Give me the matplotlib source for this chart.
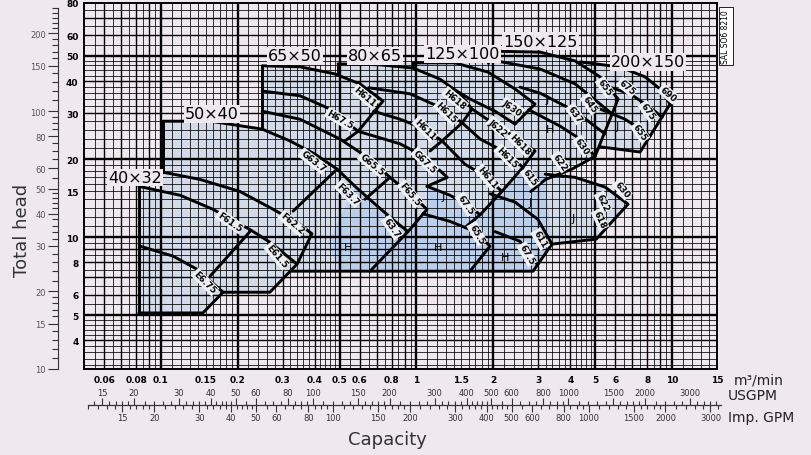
import matplotlib.pyplot as plt
import numpy as np
from matplotlib.ticker import NullLocator, NullFormatter

# Values: Q in m3/min, H in m
Q_TICKS = [0.06, 0.08, 0.1, 0.15, 0.2, 0.3, 0.4, 0.5, 0.6, 0.8, 1, 1.5, 2, 3, 4, 5, 6, 8, 10, 15]
Q_TICK_TEXT = ['0.06', '0.08', '0.1', '0.15', '0.2', '0.3', '0.4', '0.5', '0.6', '0.8',
               '1', '1.5', '2', '3', '4', '5', '6', '8', '10', '15']
H_TICKS = [4, 5, 6, 8, 10, 15, 20, 30, 40, 50, 60, 80]
FT_TICKS = [10, 15, 20, 30, 40, 50, 60, 80, 100, 150, 200]
GPM_TICKS = [15, 20, 30, 40, 50, 60, 80, 100, 150, 200, 300, 400, 500, 600, 800, 1000, 1500, 2000, 3000]

M_TO_FT = 3.2808
M3MIN_TO_USGPM = 264.17
M3MIN_TO_IMPGPM = 219.97

# envelope curves (Q, H)
c40_left = [(0.082, 15.7), (0.082, 5.1)]
c40_top = [(0.082, 15.7), (0.119, 14.5), (0.16, 12.8), (0.223, 10.7), (0.267, 9.56), (0.341, 7.87),
           (0.267, 6.13), (0.175, 6.13)]
c40_e6 = [(0.0828, 9.23), (0.1115, 8.45), (0.1384, 7.52), (0.175, 6.13), (0.146, 5.1), (0.082, 5.1)]
c40_edge = [(0.223, 10.5), (0.1557, 7.07)]
c50_left = [(0.102, 28.0), (0.102, 17.8)]
c50_top = [(0.102, 28.0), (0.156, 28.0), (0.249, 26.1), (0.32, 23.5), (0.401, 20.9), (0.489, 18.3),
           (0.575, 15.7), (0.689, 13.4), (0.825, 11.5), (0.927, 10.5)]
c50_f6 = [(0.102, 17.8), (0.142, 16.7), (0.204, 15.0), (0.275, 12.8), (0.35, 11.2), (0.39, 10.3),
          (0.341, 7.87)]
c50_edge = [(0.489, 18.3), (0.329, 12.6)]
c65_left = [(0.249, 45.8), (0.249, 26.1)]
c65_top = [(0.249, 45.8), (0.35, 45.4), (0.48, 42.6), (0.601, 39.0), (0.74, 33.5), (0.591, 25.6),
           (0.525, 23.5)]
c65_h67 = [(0.249, 36.6), (0.35, 35.1), (0.459, 31.2), (0.591, 25.6)]
c65_g6 = [(0.249, 30.6), (0.35, 28.5), (0.502, 23.9), (0.658, 20.0), (0.788, 17.0), (0.944, 14.7),
          (1.10, 12.8), (0.927, 10.5), (0.658, 7.39)]
c65_edge = [(0.788, 17.0), (0.629, 14.0)]
c_bottom = [(0.32, 7.39), (2.86, 7.39), (3.39, 9.40)]
c80_left = [(0.493, 46.6), (0.493, 42.6)]
c80_top = [(0.493, 46.6), (0.72, 46.2), (0.97, 44.9), (1.236, 40.7), (1.482, 35.7), (1.65, 31.2),
           (1.51, 27.6), (1.26, 23.5), (1.13, 21.5)]
c80_h615 = [(0.65, 37.7), (0.944, 35.7), (1.236, 31.7), (1.51, 27.6)]
c80_h611 = [(0.68, 30.6), (0.863, 28.5), (1.08, 26.1), (1.26, 23.5)]
c80_g67 = [(0.591, 25.6), (0.863, 22.9), (1.08, 20.4), (1.32, 17.0), (1.10, 15.7)]
c80_j67 = [(1.10, 15.7), (1.353, 14.5), (1.59, 13.25), (1.774, 12.2), (1.55, 10.9)]
c80_65 = [(1.06, 12.3), (1.353, 11.5), (1.70, 10.5), (1.94, 9.23), (1.62, 7.39)]
c125_left = [(0.97, 44.9), (0.97, 47.0)]
c125_top = [(0.97, 47.0), (1.415, 47.0), (1.905, 43.3), (2.43, 37.3), (2.91, 32.6), (2.43, 27.3)]
c125_j622 = [(1.35, 38.0), (1.621, 34.1), (2.03, 30.6), (2.43, 27.3)]
c125_h618 = [(1.65, 31.2), (1.94, 28.0), (2.323, 25.0), (2.91, 21.5), (2.61, 18.6), (2.16, 15.0),
             (1.774, 12.2)]
c125_h615 = [(1.51, 27.6), (1.774, 23.9), (2.22, 21.3), (2.61, 18.6)]
c125_h611 = [(1.26, 23.5), (1.55, 19.1), (1.855, 17.2), (2.16, 15.0)]
c125_611 = [(1.94, 14.7), (2.43, 13.65), (2.99, 11.7), (3.39, 9.40)]
c125_67 = [(2.03, 10.5), (2.54, 9.64), (2.965, 7.87)]
c125_chain = [(5.0, 20.5), (4.06, 18.3), (3.2, 16.7), (2.8, 15.0)]
c150_left = [(1.905, 47.0), (1.905, 52.2)]
c150_top = [(1.905, 52.2), (3.05, 51.7), (4.18, 47.8), (5.23, 41.5), (6.15, 34.1), (5.0, 20.5)]
c150_645 = [(1.905, 48.5), (3.05, 44.5), (4.18, 39.0), (5.83, 29.9)]
c150_637 = [(2.542, 37.9), (3.05, 35.9), (4.18, 30.6), (5.47, 25.0)]
c150_630 = [(2.75, 31.0), (3.647, 26.8), (4.37, 23.9), (5.0, 20.5)]
c150_low = [(3.19, 17.5), (4.18, 17.0), (5.47, 15.6), (6.73, 13.4), (5.05, 9.82), (3.39, 9.40)]
c200_top = [(4.37, 47.4), (6.27, 45.3), (7.85, 41.5), (8.98, 37.3), (9.83, 32.6), (7.5, 21.3),
            (5.23, 22.3)]
c200_675 = [(5.23, 39.0), (6.853, 35.7), (8.204, 31.7), (9.15, 29.0)]
c200_655 = [(5.23, 31.2), (6.55, 28.5), (7.5, 26.1), (8.2, 24.5)]

CURVES = [c40_left, c40_top, c40_e6, c40_edge, c50_left, c50_top, c50_f6, c50_edge,
          c65_left, c65_top, c65_h67, c65_g6, c65_edge, c_bottom,
          c80_left, c80_top, c80_h615, c80_h611, c80_g67, c80_j67, c80_65,
          c125_left, c125_top, c125_j622, c125_h618, c125_h615, c125_h611, c125_611, c125_67,
          c125_chain, c150_left, c150_top, c150_645, c150_637, c150_630, c150_low,
          c200_top, c200_675, c200_655]

# shaded areas
shade_all = [(0.082, 5.1), (0.082, 15.7), (0.102, 15.0), (0.102, 28.0), (0.156, 28.0), (0.249, 26.1),
             (0.249, 45.8), (0.35, 45.4), (0.493, 43.3), (0.493, 46.6), (0.97, 47.0), (1.905, 47.0),
             (1.905, 52.2), (3.05, 51.7), (4.37, 48.7), (6.27, 45.3), (7.85, 41.5), (8.98, 37.3),
             (9.83, 32.6), (7.5, 21.3), (5.23, 22.3), (5.0, 20.5), (3.19, 17.5), (4.18, 17.0),
             (5.47, 15.6), (6.73, 13.4), (5.05, 9.82), (3.39, 9.40), (2.86, 7.39), (0.32, 7.39),
             (0.267, 6.13), (0.175, 6.13), (0.146, 5.1)]
shade_blue = [(0.575, 15.7), (0.927, 10.5), (1.10, 12.8), (1.10, 15.7), (1.774, 12.2), (2.16, 15.0),
              (2.61, 18.6), (3.19, 17.5), (3.39, 9.40), (2.86, 7.39), (0.5, 7.39), (0.45, 9.5)]

CURVE_LABELS = [
    ('E6.75', 0.1488, 6.71, -45), ('F61.5', 0.186, 11.5, -35), ('E61.5', 0.2847, 8.45, -50),
    ('F62.2', 0.326, 11.3, -40), ('G63.7', 0.394, 19.65, -38), ('F63.7', 0.54, 14.7, -45),
    ('63.7', 0.802, 10.9, -55), ('G65.5', 0.67, 19.1, -40), ('F65.5', 0.944, 14.7, -50),
    ('H67.5', 0.502, 28.5, -30), ('H611', 0.629, 34.8, -40), ('H618', 1.415, 34.1, -40),
    ('H615', 1.306, 30.2, -45), ('H611', 1.08, 26.1, -45), ('G67.5', 1.08, 19.65, -45),
    ('J630', 2.37, 31.7, -35), ('J622', 2.085, 26.6, -40), ('H618', 2.54, 22.9, -45),
    ('H615', 2.26, 20.4, -45), ('H611', 1.89, 17.0, -50), ('67.5', 1.56, 13.4, -55),
    ('65.5', 1.726, 10.3, -60), ('615', 2.785, 17.0, -55), ('611', 3.047, 9.82, -60),
    ('67.5', 2.71, 8.6, -60), ('655', 5.47, 37.9, -55), ('645', 4.776, 32.6, -55),
    ('637', 4.18, 29.9, -55), ('630', 4.45, 22.5, -55), ('622', 3.647, 19.5, -55),
    ('675', 8.05, 30.6, -55), ('655', 7.5, 25.4, -55), ('690', 9.66, 35.7, -40),
    ('675', 6.67, 37.9, -40), ('630', 6.38, 15.3, -50), ('622', 5.37, 13.65, -65),
    ('618', 5.23, 11.7, -65),
]
FRAME_LETTERS = [('J', 1.27, 14.4), ('H', 0.54, 9.15), ('H', 1.215, 9.15), ('H', 2.22, 8.38),
                 ('J', 2.785, 13.65), ('J', 3.24, 34.1), ('H', 3.33, 26.1), ('J', 6.09, 26.8),
                 ('J', 4.10, 11.9)]
SIZE_LABELS = [('40×32', 0.0792, 17.0), ('50×40', 0.1585, 29.9), ('65×50', 0.335, 50.0),
               ('80×65', 0.689, 50.0), ('125×100', 1.508, 50.9), ('150×125', 3.047, 57.0),
               ('200×150', 8.05, 47.4)]

BG = '#efe8ee'
SHADE = '#d3dbe8'
BLUE = '#bccfea'
TXT = '#333333'

fig = plt.figure(figsize=(8.11, 4.56), dpi=100)
fig.patch.set_facecolor(BG)
W, H = 811.0, 456.0


def box(x0, y0, x1, y1):
    return [x0 / W, 1 - y1 / H, (x1 - x0) / W, (y1 - y0) / H]


QMIN, QMAX, HMIN, HMAX = 0.05, 15, 3.1, 80

ax = fig.add_axes(box(84, 4, 717, 370))
ax.set_xscale('log')
ax.set_yscale('log')
ax.set_xlim(QMIN, QMAX)
ax.set_ylim(HMIN, HMAX)
ax.set_facecolor(BG)
ax.xaxis.set_minor_locator(NullLocator())
ax.yaxis.set_minor_locator(NullLocator())

# log graph paper
q_minor = np.concatenate([np.arange(0.055, 0.1, 0.005), np.arange(0.11, 0.2, 0.01),
                          np.arange(0.22, 0.5, 0.02), np.arange(0.55, 1, 0.05),
                          np.arange(1.1, 2, 0.1), np.arange(2.2, 5, 0.2),
                          np.arange(5.5, 10, 0.5), np.arange(11, 15, 1)])
q_mid = [0.06, 0.07, 0.08, 0.09, 0.3, 0.4, 0.6, 0.7, 0.8, 0.9, 3, 4, 6, 7, 8, 9]
q_major = [0.1, 0.2, 0.5, 1, 2, 5, 10]
h_minor = np.concatenate([np.arange(3.2, 5, 0.2), np.arange(5.5, 10, 0.5), np.arange(11, 20, 1),
                          np.arange(22, 50, 2), np.arange(55, 80, 5)])
h_mid = [4, 6, 7, 8, 9, 30, 40, 60, 70]
h_major = [5, 10, 20, 50]
for vals, lw in ((q_minor, 0.55), (q_mid, 1.0), (q_major, 1.7)):
    ax.vlines(vals, HMIN, HMAX, colors='black', lw=lw, zorder=2)
for vals, lw in ((h_minor, 0.55), (h_mid, 1.0), (h_major, 1.7)):
    ax.hlines(vals, QMIN, QMAX, colors='black', lw=lw, zorder=2)

ax.fill(*zip(*shade_all), color=SHADE, lw=0, zorder=1)
ax.fill(*zip(*shade_blue), color=BLUE, lw=0, zorder=1)

for c in CURVES:
    q, h = zip(*c)
    ax.plot(q, h, color='black', lw=2.1, zorder=3, solid_capstyle='round', solid_joinstyle='round')

for t, q, h, r in CURVE_LABELS:
    ax.text(q, h, t, rotation=r, rotation_mode='anchor', ha='center', va='center', fontsize=6.3,
            fontweight='bold', zorder=4,
            bbox=dict(boxstyle='square,pad=0.12', fc='#eef0f5', ec='none'))
for t, q, h in FRAME_LETTERS:
    ax.text(q, h, t, ha='center', va='center', fontsize=8, zorder=4)
for t, q, h in SIZE_LABELS:
    ax.text(q, h, t, ha='center', va='center', fontsize=11.5, zorder=5,
            bbox=dict(boxstyle='square,pad=0.08', fc=BG, ec='none'))

ax.set_xticks(Q_TICKS)
ax.set_xticklabels(Q_TICK_TEXT, fontsize=6.5, fontweight='bold')
ax.set_yticks(H_TICKS)
ax.set_yticklabels([str(v) for v in H_TICKS], fontsize=6.5, fontweight='bold')
ax.tick_params(length=0, pad=4)
for s in ax.spines.values():
    s.set_linewidth(1.4)

# head in feet (left scale)
axf = fig.add_axes(box(57.5, 4, 58, 370))
axf.set_yscale('log')
axf.set_ylim(HMIN * M_TO_FT, HMAX * M_TO_FT)
axf.patch.set_alpha(0)
for k in ('top', 'right', 'bottom'):
    axf.spines[k].set_visible(False)
axf.spines['left'].set_bounds(10, 250)
axf.spines['left'].set_color(TXT)
axf.set_xticks([])
axf.set_yticks(FT_TICKS)
axf.set_yticklabels([str(v) for v in FT_TICKS], fontsize=6, color='#555555')
ft_minor = np.concatenate([np.arange(11, 20, 1), np.arange(22, 50, 2), np.arange(55, 100, 5),
                           np.arange(110, 200, 10), np.arange(210, 260, 10)])
axf.set_yticks([v for v in ft_minor if v not in FT_TICKS], minor=True)
axf.yaxis.set_minor_formatter(NullFormatter())
axf.tick_params(axis='y', which='major', length=7, width=0.8, color=TXT, pad=1.5)
axf.tick_params(axis='y', which='minor', length=4, width=0.8, color=TXT)

# capacity in gallons (bottom scales)
gpm_minor = np.concatenate([np.arange(11, 20, 1), np.arange(22, 50, 2), np.arange(55, 100, 5),
                            np.arange(110, 200, 10), np.arange(220, 500, 20),
                            np.arange(550, 1000, 50), np.arange(1100, 2000, 100),
                            np.arange(2200, 4000, 200)])
for conv, top in ((M3MIN_TO_USGPM, True), (M3MIN_TO_IMPGPM, False)):
    ag = fig.add_axes(box(88, 405.9, 721, 406))
    ag.set_xscale('log')
    ag.set_xlim(QMIN * conv, QMAX * conv)
    ag.patch.set_alpha(0)
    ag.set_yticks([])
    for k in ('left', 'right', 'top', 'bottom'):
        ag.spines[k].set_visible(False)
    ag.spines['top' if top else 'bottom'].set_visible(True)
    ag.spines['top' if top else 'bottom'].set_color(TXT)
    if top:
        ag.xaxis.tick_top()
    ag.set_xticks(GPM_TICKS)
    ag.set_xticklabels([str(v) for v in GPM_TICKS], fontsize=6, color=TXT)
    lo, hi = QMIN * conv, QMAX * conv
    ag.set_xticks([v for v in gpm_minor if lo < v < hi and v not in GPM_TICKS], minor=True)
    ag.xaxis.set_minor_formatter(NullFormatter())
    ag.tick_params(axis='x', which='major', length=5, width=0.8, color=TXT, pad=1)
    ag.tick_params(axis='x', which='minor', length=3, width=0.8, color=TXT)

fig.text(734 / W, 1 - 380 / H, 'm³/min', fontsize=10, va='center', color='#222222')
fig.text(728 / W, 1 - 396 / H, 'USGPM', fontsize=10, va='center', color='#222222')
fig.text(728 / W, 1 - 418 / H, 'Imp. GPM', fontsize=10, va='center', color='#222222')
fig.text(387 / W, 1 - 440 / H, 'Capacity', fontsize=13, ha='center', va='center', color=TXT)
fig.text(22 / W, 1 - 230 / H, 'Total head', fontsize=13, rotation=90, ha='center', va='center',
         color=TXT)
fig.text(726 / W, 1 - 37 / H, 'SAL SO6 8210', fontsize=5.5, rotation=90, ha='center', va='center',
         bbox=dict(boxstyle='square,pad=0.3', fc='white', ec='black', lw=0.6))

fig.savefig('out.png', dpi=100, facecolor=BG)
